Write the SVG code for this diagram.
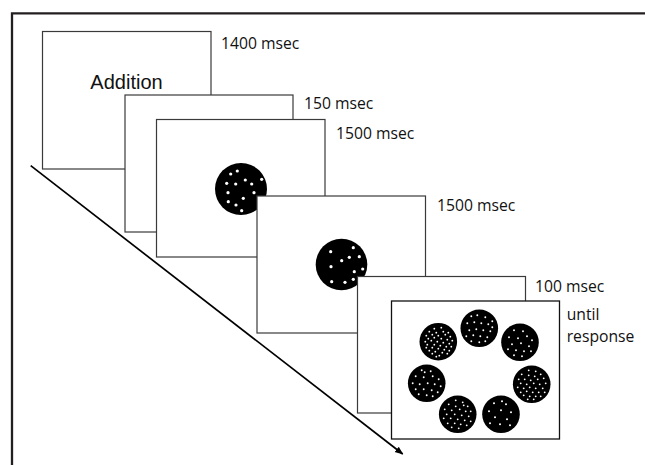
<svg xmlns="http://www.w3.org/2000/svg" width="645" height="465" viewBox="0 0 645 465">
<style>
.frame{fill:none;stroke:#231f20;stroke-width:2.3}
.box{fill:#fff;stroke:#3a3a3a;stroke-width:1.2}
.box6{fill:#fff;stroke:#111;stroke-width:1.3}
.lbl{font-family:"Open Sans","Liberation Sans",sans-serif;font-size:15.7px;fill:#111}
.big{font-family:"Liberation Sans",Arial,sans-serif;font-size:20px;fill:#111}
.disc{fill:#000}
.d{fill:#fff}
.s circle.d{r:0.95px}
</style>
<defs>
<marker id="ah" viewBox="0 0 10 10" refX="9" refY="5" markerWidth="5" markerHeight="5" orient="auto" markerUnits="strokeWidth">
<path d="M0,1 L10,5 L0,9 z" fill="#000"/>
</marker>
</defs>
<path class="frame" d="M12,470 L12,13.3 L650,13.3"/>
<g id="connectors">
<line x1="30.7" y1="165.7" x2="402.7" y2="454" stroke="#000" stroke-width="1.7" marker-end="url(#ah)"/>
</g>
<g id="screen1">
<rect class="box" x="42.5" y="31.5" width="168.5" height="137.5"/>
<text class="big" x="126.5" y="89.3" text-anchor="middle">Addition</text>
<text class="lbl" x="221" y="49.3">1400 msec</text>
</g>
<g id="screen2">
<rect class="box" x="125" y="95" width="168" height="137"/>
<text class="lbl" x="304" y="109.3">150 msec</text>
</g>
<g id="screen3">
<rect class="box" x="156.5" y="119.5" width="168.5" height="137.5"/>
<text class="lbl" x="336" y="139">1500 msec</text>
<circle class="disc" cx="241" cy="189" r="26"/>
<g class="d">
<circle cx="230.7" cy="174" r="1.6"/><circle cx="237.3" cy="171" r="1.6"/><circle cx="261.7" cy="179.3" r="1.6"/>
<circle cx="226.7" cy="183.3" r="1.6"/><circle cx="235.7" cy="184" r="1.6"/><circle cx="245.3" cy="180" r="1.6"/>
<circle cx="251.7" cy="184" r="1.6"/><circle cx="228" cy="192.7" r="1.6"/><circle cx="254" cy="192.7" r="1.6"/>
<circle cx="243.3" cy="198.3" r="1.6"/><circle cx="228.3" cy="201.7" r="1.6"/><circle cx="236" cy="205" r="1.6"/>
<circle cx="241.7" cy="210.7" r="1.6"/>
</g>
</g>
<g id="screen4">
<rect class="box" x="257" y="196" width="168.5" height="137"/>
<text class="lbl" x="437" y="210.7">1500 msec</text>
<circle class="disc" cx="341.5" cy="264.5" r="25.8"/>
<g class="d">
<circle cx="330.7" cy="251.7" r="1.6"/><circle cx="353.3" cy="247.7" r="1.6"/><circle cx="341.7" cy="260.7" r="1.6"/>
<circle cx="349.3" cy="257.3" r="1.6"/><circle cx="359.3" cy="256.7" r="1.6"/><circle cx="331" cy="266.7" r="1.6"/>
<circle cx="354.3" cy="271.7" r="1.6"/><circle cx="362.7" cy="269" r="1.6"/><circle cx="331.7" cy="281.7" r="1.6"/>
<circle cx="345" cy="282.3" r="1.6"/><circle cx="353.3" cy="279.3" r="1.6"/>
</g>
</g>
<g id="screen5">
<rect class="box" x="357.5" y="276.5" width="168" height="136.5"/>
<text class="lbl" x="535" y="291.5">100 msec</text>
</g>
<g id="screen6">
<rect class="box6" x="391.5" y="301" width="168" height="138"/>
<text class="lbl" x="566.7" y="320">until</text>
<text class="lbl" x="566.7" y="341.7">response</text>
<g transform="translate(479.3,328.3)">
<circle class="disc" r="18.8"/>
<g class="d">
<circle cx="-8" cy="-12" r="0.95"/><circle cx="-2" cy="-13" r="0.95"/><circle cx="6" cy="-11" r="0.95"/><circle cx="-12" cy="-5" r="0.95"/><circle cx="-5" cy="-6" r="0.95"/><circle cx="2" cy="-5" r="0.95"/><circle cx="9" cy="-4" r="0.95"/><circle cx="13" cy="-7" r="0.95"/><circle cx="-10" cy="2" r="0.95"/><circle cx="-3" cy="1" r="0.95"/><circle cx="4" cy="2" r="0.95"/><circle cx="11" cy="3" r="0.95"/><circle cx="-13" cy="8" r="0.95"/><circle cx="-6" cy="7" r="0.95"/><circle cx="1" cy="8" r="0.95"/><circle cx="8" cy="9" r="0.95"/><circle cx="-8" cy="13" r="0.95"/><circle cx="0" cy="14" r="0.95"/><circle cx="6" cy="13" r="0.95"/><circle cx="13" cy="-1" r="0.95"/>
</g>
</g>
<g transform="translate(438.3,341.7)">
<circle class="disc" r="18.8"/>
<g class="d">
<circle cx="-4" cy="-13" r="0.9"/><circle cx="3" cy="-14" r="0.9"/><circle cx="-9" cy="-10" r="0.9"/><circle cx="-2" cy="-9" r="0.9"/><circle cx="5" cy="-10" r="0.9"/><circle cx="10" cy="-9" r="0.9"/><circle cx="-12" cy="-6" r="0.9"/><circle cx="-6" cy="-7" r="0.9"/><circle cx="0" cy="-6" r="0.9"/><circle cx="7" cy="-7" r="0.9"/><circle cx="12" cy="-5" r="0.9"/><circle cx="-10" cy="-3" r="0.9"/><circle cx="-4" cy="-4" r="0.9"/><circle cx="3" cy="-3" r="0.9"/><circle cx="9" cy="-2" r="0.9"/><circle cx="14" cy="-1" r="0.9"/><circle cx="-13" cy="0" r="0.9"/><circle cx="-7" cy="-1" r="0.9"/><circle cx="-1" cy="0" r="0.9"/><circle cx="5" cy="1" r="0.9"/><circle cx="11" cy="2" r="0.9"/><circle cx="-11" cy="3" r="0.9"/><circle cx="-4" cy="3" r="0.9"/><circle cx="2" cy="4" r="0.9"/><circle cx="8" cy="5" r="0.9"/><circle cx="13" cy="5" r="0.9"/><circle cx="-12" cy="6" r="0.9"/><circle cx="-6" cy="6" r="0.9"/><circle cx="0" cy="7" r="0.9"/><circle cx="6" cy="8" r="0.9"/><circle cx="11" cy="9" r="0.9"/><circle cx="-9" cy="9" r="0.9"/><circle cx="-3" cy="10" r="0.9"/><circle cx="4" cy="11" r="0.9"/><circle cx="9" cy="12" r="0.9"/><circle cx="-6" cy="12" r="0.9"/><circle cx="1" cy="14" r="0.9"/><circle cx="-2" cy="15" r="0.9"/>
</g>
</g>
<g transform="translate(520,342.3)">
<circle class="disc" r="18.8"/>
<g class="d">
<circle cx="-6" cy="-12" r="0.95"/><circle cx="3" cy="-11" r="0.95"/><circle cx="-11" cy="-5" r="0.95"/><circle cx="-2" cy="-4" r="0.95"/><circle cx="7" cy="-6" r="0.95"/><circle cx="12" cy="-2" r="0.95"/><circle cx="-8" cy="2" r="0.95"/><circle cx="1" cy="1" r="0.95"/><circle cx="9" cy="4" r="0.95"/><circle cx="-12" cy="7" r="0.95"/><circle cx="-4" cy="8" r="0.95"/><circle cx="4" cy="9" r="0.95"/><circle cx="11" cy="9" r="0.95"/><circle cx="-6" cy="13" r="0.95"/><circle cx="2" cy="14" r="0.95"/>
</g>
</g>
<g transform="translate(426.7,383.3)">
<circle class="disc" r="18.8"/>
<g class="d">
<circle cx="-5" cy="-13" r="0.95"/><circle cx="4" cy="-12" r="0.95"/><circle cx="-11" cy="-7" r="0.95"/><circle cx="-3" cy="-6" r="0.95"/><circle cx="6" cy="-7" r="0.95"/><circle cx="12" cy="-4" r="0.95"/><circle cx="-14" cy="0" r="0.95"/><circle cx="-7" cy="1" r="0.95"/><circle cx="1" cy="0" r="0.95"/><circle cx="8" cy="1" r="0.95"/><circle cx="14" cy="3" r="0.95"/><circle cx="-11" cy="6" r="0.95"/><circle cx="-3" cy="6" r="0.95"/><circle cx="5" cy="7" r="0.95"/><circle cx="11" cy="9" r="0.95"/><circle cx="-8" cy="11" r="0.95"/><circle cx="0" cy="12" r="0.95"/><circle cx="6" cy="13" r="0.95"/><circle cx="-2" cy="-11" r="0.95"/>
</g>
</g>
<g transform="translate(531.7,384.3)">
<circle class="disc" r="18.8"/>
<g class="d">
<circle cx="-3" cy="-14" r="0.9"/><circle cx="4" cy="-13" r="0.9"/><circle cx="-10" cy="-10" r="0.9"/><circle cx="-3" cy="-9" r="0.9"/><circle cx="3" cy="-8" r="0.9"/><circle cx="9" cy="-10" r="0.9"/><circle cx="-13" cy="-5" r="0.9"/><circle cx="-7" cy="-5" r="0.9"/><circle cx="-1" cy="-4" r="0.9"/><circle cx="6" cy="-5" r="0.9"/><circle cx="12" cy="-6" r="0.9"/><circle cx="-11" cy="-1" r="0.9"/><circle cx="-5" cy="0" r="0.9"/><circle cx="2" cy="-1" r="0.9"/><circle cx="8" cy="0" r="0.9"/><circle cx="14" cy="-1" r="0.9"/><circle cx="-14" cy="3" r="0.9"/><circle cx="-8" cy="4" r="0.9"/><circle cx="-2" cy="3" r="0.9"/><circle cx="4" cy="4" r="0.9"/><circle cx="11" cy="4" r="0.9"/><circle cx="-11" cy="8" r="0.9"/><circle cx="-5" cy="7" r="0.9"/><circle cx="1" cy="8" r="0.9"/><circle cx="7" cy="8" r="0.9"/><circle cx="13" cy="8" r="0.9"/><circle cx="-8" cy="11" r="0.9"/><circle cx="-2" cy="12" r="0.9"/><circle cx="4" cy="12" r="0.9"/><circle cx="9" cy="12" r="0.9"/><circle cx="-4" cy="15" r="0.9"/><circle cx="2" cy="15" r="0.9"/>
</g>
</g>
<g transform="translate(457.7,414.3)">
<circle class="disc" r="18.8"/>
<g class="d">
<circle cx="-2" cy="-14" r="0.9"/><circle cx="5" cy="-12" r="0.9"/><circle cx="-9" cy="-10" r="0.9"/><circle cx="-2" cy="-8" r="0.9"/><circle cx="10" cy="-8" r="0.9"/><circle cx="-13" cy="-5" r="0.9"/><circle cx="-6" cy="-4" r="0.9"/><circle cx="2" cy="-5" r="0.9"/><circle cx="8" cy="-3" r="0.9"/><circle cx="13" cy="-3" r="0.9"/><circle cx="-11" cy="0" r="0.9"/><circle cx="-3" cy="0" r="0.9"/><circle cx="4" cy="1" r="0.9"/><circle cx="11" cy="2" r="0.9"/><circle cx="-14" cy="4" r="0.9"/><circle cx="-7" cy="4" r="0.9"/><circle cx="0" cy="5" r="0.9"/><circle cx="7" cy="6" r="0.9"/><circle cx="13" cy="7" r="0.9"/><circle cx="-10" cy="9" r="0.9"/><circle cx="-3" cy="9" r="0.9"/><circle cx="3" cy="10" r="0.9"/><circle cx="9" cy="11" r="0.9"/><circle cx="-6" cy="13" r="0.9"/><circle cx="1" cy="14" r="0.9"/><circle cx="6" cy="-9" r="0.9"/>
</g>
</g>
<g transform="translate(501,414.3)">
<circle class="disc" r="18.8"/>
<g class="d">
<circle cx="-7" cy="-11" r="1"/><circle cx="5" cy="-10" r="1"/><circle cx="-12" cy="-3" r="1"/><circle cx="0" cy="-4" r="1"/><circle cx="10" cy="-2" r="1"/><circle cx="-6" cy="3" r="1"/><circle cx="6" cy="5" r="1"/><circle cx="-11" cy="9" r="1"/><circle cx="-1" cy="10" r="1"/><circle cx="9" cy="11" r="1"/><circle cx="1" cy="-13" r="1"/>
</g>
</g>
</g>
</svg>
